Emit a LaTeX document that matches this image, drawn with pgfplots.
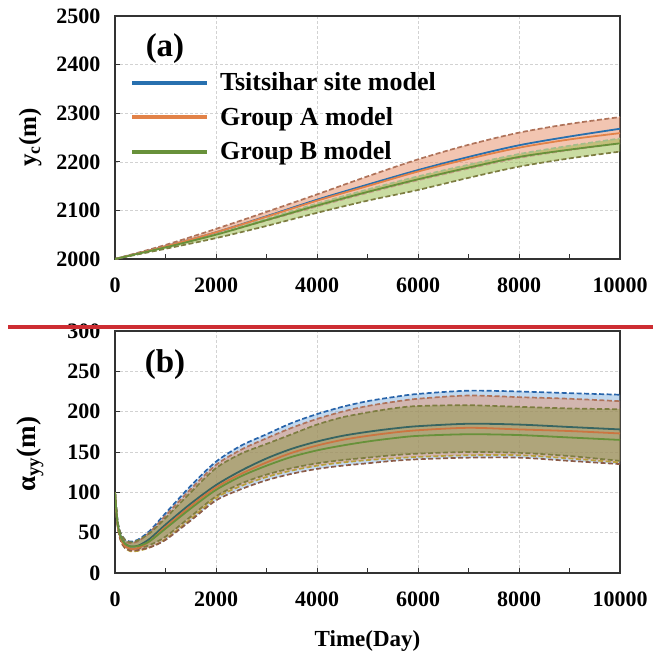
\documentclass[border=0pt]{standalone}
\usepackage{fontspec}
\setmainfont{Liberation Serif}
\usepackage{pgfplots}
\usepackage{pgfplotstable}
\pgfplotsset{compat=1.18}
\usepgfplotslibrary{fillbetween}

\definecolor{cblue}{RGB}{40,112,175}
\definecolor{corange}{RGB}{226,130,72}
\definecolor{cgreen}{RGB}{104,145,58}
\definecolor{fblue}{RGB}{120,170,220}
\definecolor{forange}{RGB}{230,140,100}
\definecolor{fgreen}{RGB}{125,140,45}
\definecolor{fgreenlt}{RGB}{150,185,70}
\definecolor{dblue}{RGB}{40,100,170}
\definecolor{dorange}{RGB}{175,115,90}
\definecolor{dgreen}{RGB}{125,125,65}
\definecolor{dyellow}{RGB}{185,160,60}
\definecolor{redline}{RGB}{205,45,50}

\pgfplotstableread{
t blue orange green Aup Alo Bup Blo
0 2000 2000 2000 2000 2000 2000 2000
1000 2026 2026 2024 2029 2024 2025 2021
2000 2055 2055 2050 2062 2050 2052 2043
3000 2088 2087 2080 2097 2079 2083 2068
4000 2122 2120 2110 2133 2108 2114 2095
5000 2153 2150 2138 2170 2136 2143 2120
6000 2183 2180 2164 2205 2162 2170 2142
7000 2210 2206 2188 2235 2186 2194 2167
8000 2234 2229 2210 2260 2208 2216 2190
9000 2252 2246 2225 2278 2224 2233 2207
10000 2268 2259 2238 2292 2238 2248 2221
}\datatop

\pgfplotstableread{
t blue orange green Tup Tlo Aup Alo Bup Blo
0 100 100 100 100 100 100 100 100 100
30 75 74 75 77 73 76 73 77 74
60 58 56 58 61 55 60 55 61 56
100 47 45 47 51 43 50 43 51 44
150 40 37 40 45 35 43 35 45 37
200 36 33 36 41 31 39 31 41 33
300 33 30 33 39 28 37 27 38 30
400 33 30 33 40 28 38 27 39 30
500 35 32 34 43 29 41 28 42 31
700 43 40 40 53 32 51 32 50 35
1000 60 57 55 74 41 71 42 68 45
1500 86 83 80 108 65 104 67 100 70
2000 109 106 103 138 90 134 93 130 95
2500 127 123 120 158 104 153 108 148 111
3000 142 137 133 172 115 167 119 160 122
3500 154 149 144 186 123 180 127 172 130
4000 163 158 152 197 129 191 133 184 136
4500 170 165 158 206 133 200 137 193 140
5000 175 170 163 213 136 207 140 199 143
5500 179 174 167 218 139 212 142 204 146
6000 182 177 170 222 141 216 144 207 148
7000 185 180 172 226 143 220 146 208 150
8000 184 178 171 225 143 218 146 206 149
9000 181 176 168 223 139 216 142 204 145
10000 178 173 165 221 135 213 137 203 139
}\databot

\pgfplotsset{
  myax/.style={
    scale only axis, width=505pt,
    xmin=0, xmax=10000,
    xtick={0,2000,...,10000}, minor xtick={1000,3000,...,9000},
    tick pos=left, tick align=inside,
    major tick length=5pt, minor tick length=5pt,
    tick style={line width=1pt, black!80},
    ymajorgrids=true, xmajorgrids=true,
    major grid style={densely dashed, gray!35, line width=0.6pt},
    axis line style={line width=1.3pt, black!80},
    ticklabel style={font=\fontsize{22}{24}\selectfont\bfseries},
    /pgf/number format/assume math mode=true,
    /pgf/number format/set thousands separator={},
    scaled ticks=false,
    xticklabel style={yshift=-15pt},
    yticklabel style={xshift=-11pt},
    ylabel style={at={(axis description cs:-0.168,0.5)}, anchor=center},
  },
  dsh/.style={dash pattern=on 5pt off 2.5pt, line width=1.7pt},
}

\begin{document}
\begin{tikzpicture}

% ---------------- (a)
\begin{axis}[myax, at={(115pt,-16pt)}, anchor=north west, height=243pt,
  ymin=2000, ymax=2500, ytick={2000,2100,...,2500},
  ylabel={y\textsubscript{c}(m)},
  ylabel style={font=\fontsize{25}{28}\selectfont\bfseries},
  legend style={at={(axis description cs:0.03,0.775)}, anchor=north west,
    draw=none, fill=none, font=\fontsize{26}{28}\selectfont\bfseries,
    row sep=11pt, inner sep=0pt, cells={anchor=west}},
  legend image code/.code={\draw[#1, line width=3.8pt] (0pt,0pt) -- (75pt,0pt);},
]
\addplot[name path=aup, draw=none, forget plot, smooth] table[x=t, y=Aup] {\datatop};
\addplot[name path=alo, draw=none, forget plot, smooth] table[x=t, y=Alo] {\datatop};
\addplot[name path=bup, draw=none, forget plot, smooth] table[x=t, y=Bup] {\datatop};
\addplot[name path=blo, draw=none, forget plot, smooth] table[x=t, y=Blo] {\datatop};
\addplot[forange, fill opacity=0.5, forget plot] fill between[of=aup and alo];
\addplot[fgreenlt, fill opacity=0.5, forget plot] fill between[of=bup and blo];
\addplot[dsh, dorange, forget plot, smooth] table[x=t, y=Aup] {\datatop};
\addplot[dsh, dorange!70, forget plot, smooth] table[x=t, y=Alo] {\datatop};
\addplot[dsh, cgreen!60!white, forget plot, smooth] table[x=t, y=Bup] {\datatop};
\addplot[dsh, dgreen, forget plot, smooth] table[x=t, y=Blo] {\datatop};
\addplot[cblue, line width=1.8pt, smooth] table[x=t, y=blue] {\datatop};
\addlegendentry{\hspace{9pt}Tsitsihar site model}
\addplot[corange, line width=1.8pt, smooth] table[x=t, y=orange] {\datatop};
\addlegendentry{\hspace{9pt}Group A model}
\addplot[cgreen, line width=1.8pt, smooth] table[x=t, y=green] {\datatop};
\addlegendentry{\hspace{9pt}Group B model}
\node[font=\fontsize{33}{36}\selectfont\bfseries] at (axis description cs:0.099,0.868) {(a)};
\end{axis}

% ---------------- (b)
\begin{axis}[myax, at={(115pt,-331pt)}, anchor=north west, height=242pt,
  ymin=0, ymax=300, ytick={0,50,...,300},
  ylabel={α\textsubscript{yy}(m)},
  ylabel style={font=\fontsize{27}{30}\selectfont\bfseries, at={(axis description cs:-0.168,0.49)}},
  xlabel={Time(Day)},
  xlabel style={font=\fontsize{23}{26}\selectfont\bfseries, at={(axis description cs:0.5,-0.28)}, anchor=center},
]
\addplot[name path=tup, draw=none, smooth] table[x=t, y=Tup] {\databot};
\addplot[name path=tlo, draw=none, smooth] table[x=t, y=Tlo] {\databot};
\addplot[name path=aup, draw=none, smooth] table[x=t, y=Aup] {\databot};
\addplot[name path=alo, draw=none, smooth] table[x=t, y=Alo] {\databot};
\addplot[name path=bup, draw=none, smooth] table[x=t, y=Bup] {\databot};
\addplot[name path=blo, draw=none, smooth] table[x=t, y=Blo] {\databot};
\addplot[fblue, fill opacity=0.45] fill between[of=tup and tlo];
\addplot[forange, fill opacity=0.45] fill between[of=aup and alo];
\addplot[fgreen, fill opacity=0.4] fill between[of=bup and blo];
\addplot[dsh, dblue, smooth] table[x=t, y=Tup] {\databot};
\addplot[dsh, dorange, smooth] table[x=t, y=Aup] {\databot};
\addplot[dsh, dgreen, smooth] table[x=t, y=Bup] {\databot};
\addplot[dsh, dgreen, smooth] table[x=t, y=Blo] {\databot};
\addplot[dsh, dyellow, smooth] table[x=t, y=Alo] {\databot};
\addplot[dsh, dorange!80!black, smooth] table[x=t, y=Tlo] {\databot};
\addplot[cblue!55!cgreen!80!black, line width=1.8pt, smooth] table[x=t, y=blue] {\databot};
\addplot[corange!90!black, line width=1.8pt, smooth] table[x=t, y=orange] {\databot};
\addplot[cgreen, line width=1.8pt, smooth] table[x=t, y=green] {\databot};
\node[font=\fontsize{33}{36}\selectfont\bfseries] at (axis description cs:0.099,0.86) {(b)};
\end{axis}

\draw[redline, line width=4pt] (8pt,-327pt) -- (653pt,-327pt);
\path (0pt,0pt) rectangle (653pt,-656pt);
\end{tikzpicture}
\end{document}
